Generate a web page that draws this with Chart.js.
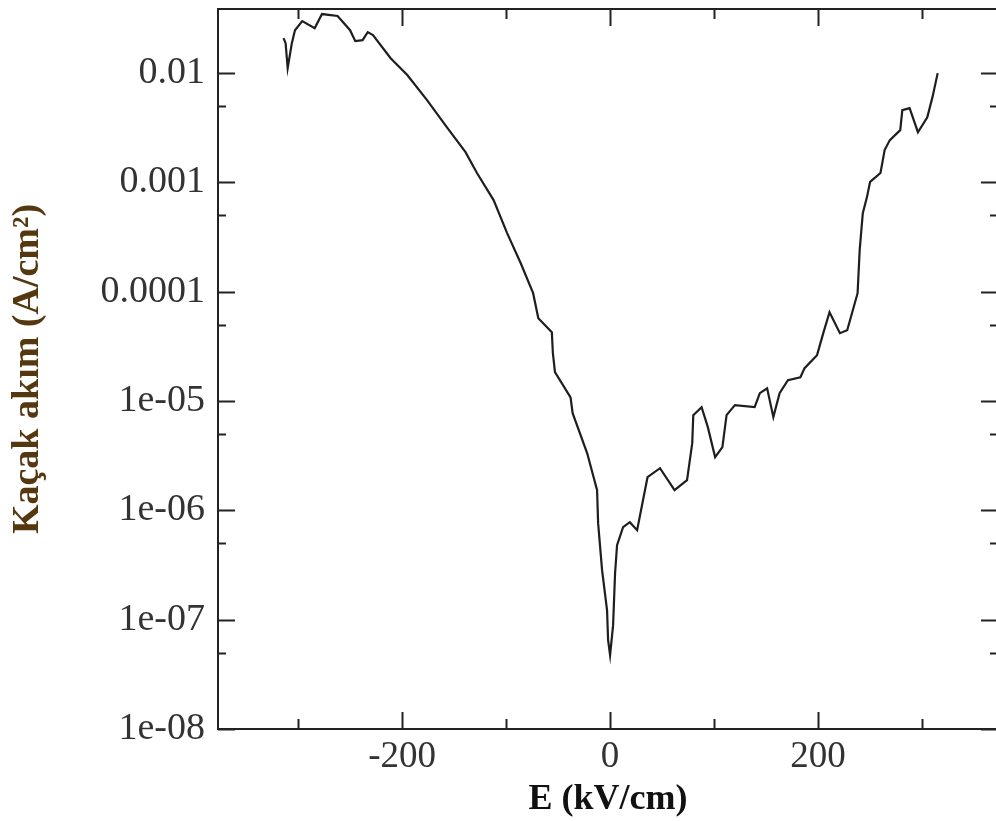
<!DOCTYPE html>
<html>
<head>
<meta charset="utf-8">
<script src="https://cdn.jsdelivr.net/npm/chart.js@4.4.1/dist/chart.umd.min.js"></script>
<style>
  html, body { margin: 0; padding: 0; background: #fff; overflow: hidden; }
  #wrap { width: 1000px; height: 821px; }
</style>
</head>
<body>
<div id="wrap"><canvas id="chart"></canvas></div>
<script>
// electric field (kV/cm) and leakage current density (A/cm2)
const fieldKV = [
  -314, -312, -310, -306, -303, -296, -284, -277, -262, -250, -245, -238, -233, -228,
  -211, -195, -176, -157, -139, -128, -112, -99, -86, -74, -69, -56, -55, -53,
  -38, -36, -22, -12.5, -11.5, -7.7, -2.9, -1.9, 0, 2.9, 4.8, 6.7, 12.5, 19, 26,
  36, 48, 62, 74, 79, 80, 88, 94, 101, 108, 112, 120, 139, 144, 151, 157, 163,
  171, 183, 187, 199, 205, 211, 221, 228, 238, 240, 243, 247, 250, 260, 264, 269,
  279, 281, 288, 296, 305, 310, 315
];
const currentA = [
  0.0209, 0.0188, 0.0111, 0.0188, 0.0247, 0.0299, 0.0258, 0.0347, 0.0333, 0.0247, 0.0196, 0.0200, 0.0237, 0.0223,
  0.0137, 0.0096, 0.00566, 0.00321, 0.00189, 0.00122, 0.000689, 0.000344, 0.000183, 9.7e-5, 5.73e-5, 4.27e-5, 2.74e-5, 1.84e-5,
  1.08e-5, 7.74e-6, 3.33e-6, 1.53e-6, 7.64e-7, 2.84e-7, 1.22e-7, 6.49e-8, 4.73e-8, 8.91e-8, 2.66e-7, 4.81e-7, 7.02e-7, 7.8e-7, 6.59e-7,
  2.01e-6, 2.43e-6, 1.53e-6, 1.89e-6, 4.12e-6, 7.43e-6, 8.79e-6, 5.77e-6, 3.07e-6, 3.79e-6, 7.43e-6, 9.18e-6, 8.79e-6, 1.18e-5, 1.31e-5, 7.13e-6, 1.18e-5,
  1.55e-5, 1.65e-5, 2.0e-5, 2.63e-5, 4.18e-5, 6.5e-5, 4.18e-5, 4.45e-5, 9.7e-5, 2.4e-4, 5.24e-4, 7.34e-4, 1.01e-3, 1.22e-3, 1.98e-3, 2.44e-3,
  3.01e-3, 4.58e-3, 4.78e-3, 2.88e-3, 3.95e-3, 6.03e-3, 0.01
];
const xTicks = [-300, -200, -100, 0, 100, 200, 300];
const yDecades = [-8, -7, -6, -5, -4, -3, -2];

const axisColor = '#222';
const serif = '"Liberation Serif", "DejaVu Serif", serif';

function fmtTick(v) {
  const e = Math.round(Math.log10(v));
  if (e >= -4) return v.toFixed(-e);
  return '1e-0' + (-e);
}

const frameTicks = {
  id: 'frameTicks',
  afterDraw(chart) {
    const { ctx, chartArea: a, scales: { x, y } } = chart;
    ctx.save();
    ctx.strokeStyle = axisColor;
    ctx.lineWidth = 2;
    ctx.strokeRect(a.left, a.top, a.right - a.left, a.bottom - a.top);
    ctx.beginPath();
    x.ticks.forEach(t => {
      const px = Math.round(x.getPixelForValue(t.value)) + 0.5;
      const len = t.value % 200 === 0 ? 17 : 10;
      ctx.moveTo(px, a.bottom); ctx.lineTo(px, a.bottom - len);
      ctx.moveTo(px, a.top); ctx.lineTo(px, a.top + len);
    });
    y.ticks.forEach(t => {
      const py = Math.round(y.getPixelForValue(t.value)) + 0.5;
      const len = t.major ? 17 : 8;
      ctx.moveTo(a.left, py); ctx.lineTo(a.left + len, py);
      ctx.moveTo(a.right, py); ctx.lineTo(a.right - len, py);
    });
    ctx.stroke();
    ctx.restore();
  }
};

new Chart(document.getElementById('chart'), {
  type: 'line',
  data: {
    datasets: [{
      data: fieldKV.map((e, i) => ({ x: e, y: currentA[i] })),
      borderColor: '#1e1e1e',
      borderWidth: 2.2,
      pointRadius: 0,
      tension: 0,
      fill: false
    }]
  },
  options: {
    responsive: true,
    maintainAspectRatio: false,
    animation: false,
    layout: { padding: { top: 9, right: 2, left: 0, bottom: 0 } },
    plugins: { legend: { display: false }, tooltip: { enabled: false } },
    scales: {
      x: {
        type: 'linear',
        min: -377,
        max: 373,
        grid: { display: false, drawTicks: false },
        border: { display: false },
        afterBuildTicks: s => { s.ticks = xTicks.map(v => ({ value: v })); },
        afterFit: s => { s.height = 92; s.paddingLeft = 0; s.paddingRight = 0; },
        ticks: {
          autoSkip: false,
          maxRotation: 0,
          padding: 6,
          color: '#333',
          font: { family: serif, size: 37 },
          callback: v => (v % 200 === 0 ? String(v) : '')
        },
        title: {
          display: true,
          text: 'E (kV/cm)',
          color: '#111',
          font: { family: serif, size: 36, weight: 'bold' },
          padding: { top: 0, bottom: 0 }
        }
      },
      y: {
        type: 'logarithmic',
        min: 1e-8,
        max: 0.0386,
        grid: { display: false, drawTicks: false },
        border: { display: false },
        afterBuildTicks: s => {
          const t = [];
          yDecades.forEach(e => {
            t.push({ value: Math.pow(10, e), major: true });
            if (5 * Math.pow(10, e) < 0.0386) t.push({ value: 5 * Math.pow(10, e), major: false });
          });
          s.ticks = t;
        },
        afterFit: s => { s.width = 218; s.paddingTop = 0; s.paddingBottom = 0; },
        ticks: {
          autoSkip: false,
          padding: 13,
          color: '#333',
          font: { family: serif, size: 38 },
          callback: function (v, i, ticks) {
            return ticks[i].major ? fmtTick(v) : '';
          }
        },
        title: {
          display: true,
          text: 'Kaçak akım (A/cm²)',
          color: '#553810',
          font: { family: serif, size: 38, weight: 'bold' },
          padding: { top: 5, bottom: 0 }
        }
      }
    }
  },
  plugins: [frameTicks]
});
</script>
</body>
</html>
